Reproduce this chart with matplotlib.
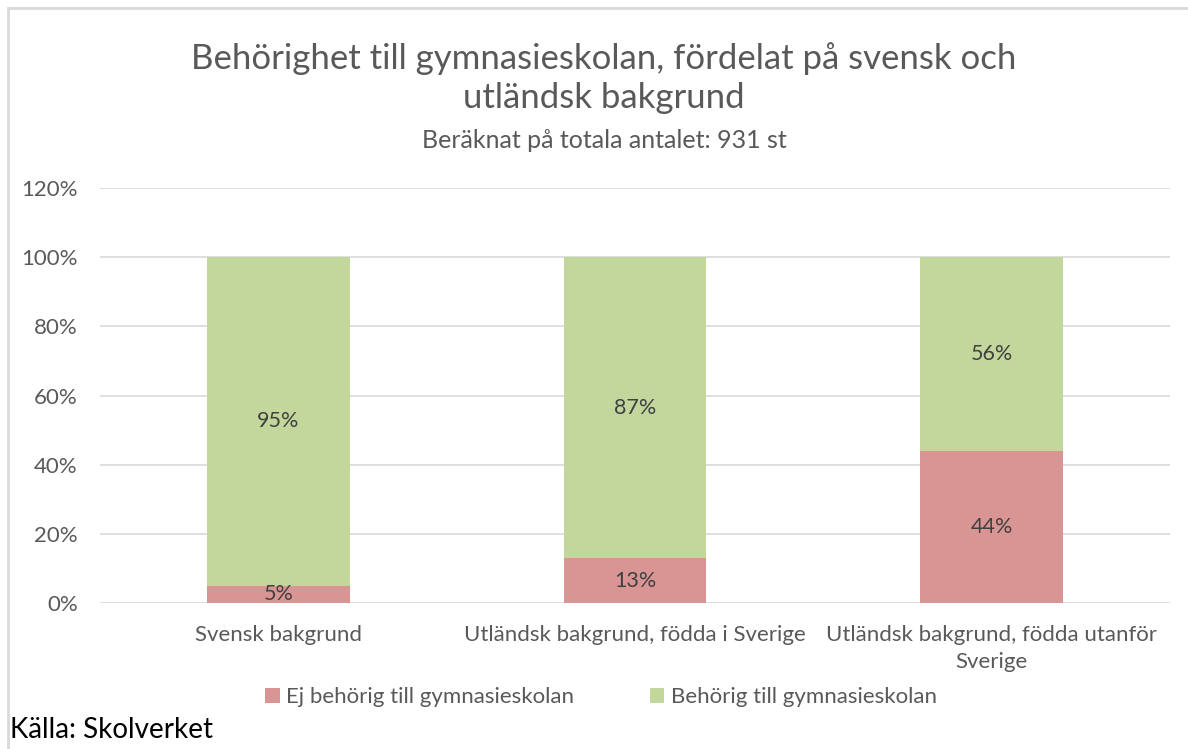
import matplotlib.pyplot as plt
from matplotlib.patches import Rectangle
import numpy as np

plt.rcParams['font.family'] = ['Lato', 'DejaVu Sans']

categories = ['Svensk bakgrund', 'Utländsk bakgrund, födda i Sverige',
              'Utländsk bakgrund, födda utanför\nSverige']
ej_behorig = [5, 13, 44]
behorig = [95, 87, 56]
series_names = ['Ej behörig till gymnasieskolan', 'Behörig till gymnasieskolan']
yticks = [0, 20, 40, 60, 80, 100, 120]

red = '#D99594'
green = '#C3D69B'
grey_text = '#595959'

fig = plt.figure(figsize=(11.88, 7.49), dpi=100)
ax = fig.add_axes([100 / 1188, 1 - 603 / 749, 1070 / 1188, 415 / 749])

x = np.arange(len(categories))
b1 = ax.bar(x, ej_behorig, width=0.4, color=red, zorder=2, label=series_names[0])
b2 = ax.bar(x, behorig, width=0.4, bottom=ej_behorig, color=green, zorder=2,
            label=series_names[1])

for rect, v in zip(b1, ej_behorig):
    ax.text(rect.get_x() + rect.get_width() / 2, v / 2, f'{v}%', ha='center', va='center',
            fontsize=15.5, color='#404040', zorder=3)
for rect, base, v in zip(b2, ej_behorig, behorig):
    ax.text(rect.get_x() + rect.get_width() / 2, base + v / 2, f'{v}%', ha='center',
            va='center', fontsize=15.5, color='#404040', zorder=3)

ax.set_xlim(-0.5, 2.5)
ax.set_ylim(0, 120)
ax.set_yticks(yticks)
ax.set_yticklabels([f'{t}%' for t in yticks])
ax.set_xticks(x)
ax.set_xticklabels(categories, linespacing=1.4)
ax.tick_params(axis='both', length=0, labelsize=16, colors=grey_text)
ax.tick_params(axis='y', pad=16)
ax.tick_params(axis='x', pad=16)
ax.grid(axis='y', color='#D9D9D9', linewidth=1.2, zorder=0)
for s in ax.spines.values():
    s.set_visible(False)

cx = 604 / 1188
fig.text(cx, 1 - 78 / 749, 'Behörighet till gymnasieskolan, fördelat på svensk och\nutländsk bakgrund',
         ha='center', va='center', fontsize=25, color=grey_text, linespacing=1.3)
fig.text(cx, 1 - 140 / 749, 'Beräknat på totala antalet: 931 st', ha='center', va='center',
         fontsize=18, color=grey_text)

fig.legend(handles=[b1, b2], loc='center', bbox_to_anchor=(601 / 1188, 1 - 697 / 749), ncol=2,
           frameon=False, fontsize=16, labelcolor=grey_text, handlelength=0.65,
           handleheight=0.65, handletextpad=0.3, columnspacing=3.4)

fig.text(10 / 1188, 1 - 730 / 749, 'Källa: Skolverket', ha='left', va='center',
         fontsize=20, color='black')

# light frame around the chart area
fig.add_artist(Rectangle((8 / 1188, -0.1), 1.2, 1 - 8 / 749 + 0.1, transform=fig.transFigure,
                         fill=False, edgecolor='#D9D9D9', linewidth=2))

fig.savefig('out.png', dpi=100)
